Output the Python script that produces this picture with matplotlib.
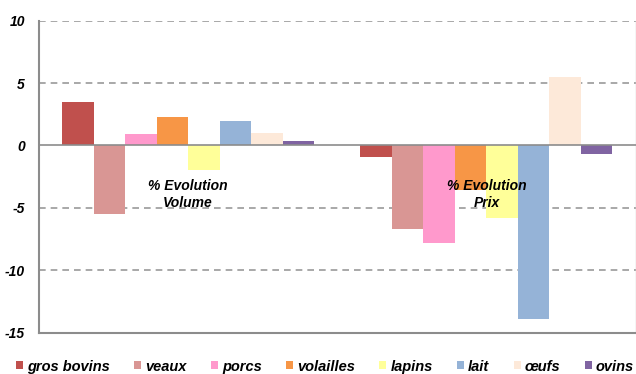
import matplotlib
matplotlib.use("Agg")
import matplotlib.pyplot as plt
import numpy as np

plt.rcParams['font.family'] = ['Liberation Sans', 'DejaVu Sans']

groups = ["% Evolution\nVolume", "% Evolution\nPrix"]
series = ["gros bovins", "veaux", "porcs", "volailles", "lapins", "lait", "œufs", "ovins"]
volume = [3.5, -5.5, 0.9, 2.3, -2.0, 2.0, 1.0, 0.4]
prix = [-0.9, -6.7, -7.8, -3.6, -5.8, -13.9, 5.5, -0.7]
colors = ["#C0504D", "#D99694", "#FF99CC", "#F79646", "#FFFF99", "#95B3D7", "#FDE9D9", "#8064A2"]
yticks = [-15, -10, -5, 0, 5, 10]

fig = plt.figure(figsize=(6.36, 3.74), dpi=100)
ax = fig.add_axes([0.0613, 0.1104, 0.9380, 0.8343])

x = np.arange(len(groups))
width = 0.1056
for i, name in enumerate(series):
    vals = [volume[i], prix[i]]
    ax.bar(x + (i - 3.5) * width, vals, width, color=colors[i], label=name,
           edgecolor='none', zorder=3)

ax.set_xlim(-0.5, 1.5)
ax.set_ylim(-15, 10)
ax.set_yticks(yticks)
ax.set_yticklabels([str(t) for t in yticks], fontsize=10, fontweight='bold', style='italic')
ax.set_xticks([])
ax.tick_params(axis='y', length=0, pad=10)

for t in yticks:
    if t == -15:
        continue
    if t == 0:
        ax.axhline(0, color='#8c8c8c', lw=1.2, zorder=4)
    else:
        ax.axhline(t, color='#9a9a9a', lw=1.2, ls=(0, (4, 3)), zorder=1)

for side in ['left', 'bottom']:
    ax.spines[side].set_color('#8c8c8c')
    ax.spines[side].set_linewidth(1.5)
ax.spines['top'].set_visible(False)
ax.spines['right'].set_color('#d0d0d0')
ax.spines['right'].set_linewidth(1.0)

for xi, label in zip(x, groups):
    ax.text(xi, -3.95, label, ha='center', va='center', fontsize=10,
            fontweight='bold', style='italic', zorder=5, linespacing=1.3)

leg = fig.legend(loc='center', bbox_to_anchor=(0.511, 0.02), ncol=8, frameon=False,
                 prop={'size': 10.5, 'weight': 'bold', 'style': 'italic'},
                 handlelength=0.48, handleheight=0.48, handletextpad=0.27,
                 columnspacing=1.68, borderaxespad=0)

fig.savefig("out.png", dpi=100)
